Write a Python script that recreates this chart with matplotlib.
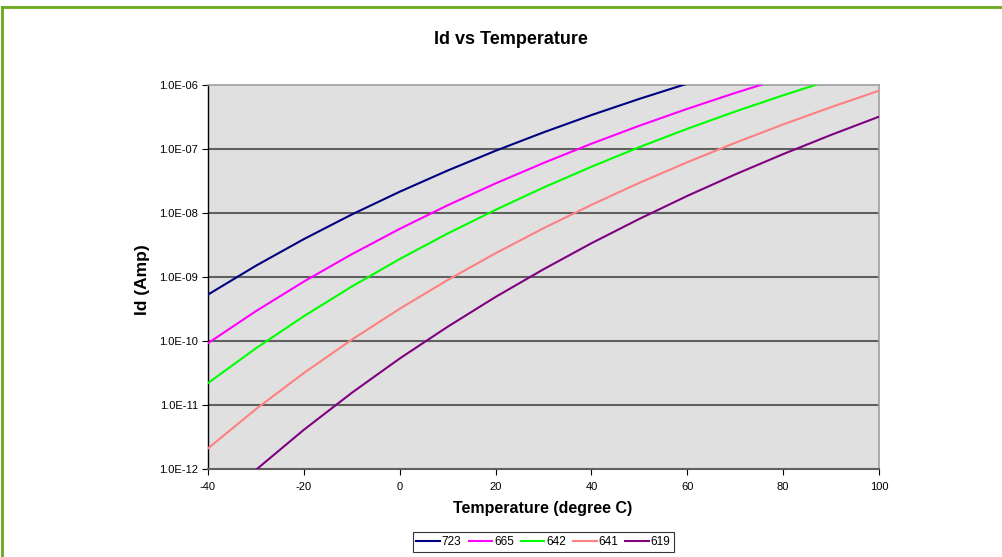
import matplotlib
matplotlib.use("Agg")
import matplotlib.pyplot as plt
from matplotlib.lines import Line2D
from matplotlib.ticker import FixedLocator, FixedFormatter

plt.rcParams['font.family'] = ['Liberation Sans', 'DejaVu Sans']

# temperature (degree C)
temps = [-40, -30, -20, -10, 0, 10, 20, 30, 40, 50, 60, 70, 80, 90, 100]

# Id (Amp) per series
id_723 = [5.31e-10, 1.50e-9, 3.91e-9, 9.48e-9, 2.15e-8, 4.61e-8, 9.38e-8, 1.82e-7,
          3.39e-7, 6.07e-7, 1.05e-6, 1.76e-6, 2.86e-6, 4.53e-6, 7.00e-6]
id_665 = [9.25e-11, 2.93e-10, 8.49e-10, 2.27e-9, 5.65e-9, 1.32e-8, 2.90e-8, 6.05e-8,
          1.21e-7, 2.31e-7, 4.24e-7, 7.52e-7, 1.29e-6, 2.15e-6, 3.48e-6]
id_642 = [2.20e-11, 7.69e-11, 2.44e-10, 7.10e-10, 1.91e-9, 4.78e-9, 1.12e-8, 2.50e-8,
          5.28e-8, 1.07e-7, 2.07e-7, 3.85e-7, 6.90e-7, 1.20e-6, 2.03e-6]
id_641 = [2.10e-12, 8.63e-12, 3.16e-11, 1.05e-10, 3.19e-10, 8.97e-10, 2.35e-9, 5.78e-9,
          1.34e-8, 2.96e-8, 6.21e-8, 1.25e-7, 2.42e-7, 4.51e-7, 8.15e-7]
id_619 = [2.03e-13, 9.70e-13, 4.10e-12, 1.55e-11, 5.33e-11, 1.67e-10, 4.88e-10, 1.32e-9,
          3.37e-9, 8.09e-9, 1.85e-8, 4.01e-8, 8.32e-8, 1.66e-7, 3.20e-7]

labels = ['723', '665', '642', '641', '619']
colors = ['#000080', '#FF00FF', '#00FF00', '#FF8080', '#800080']
series = [id_723, id_665, id_642, id_641, id_619]

y_ticks = [1e-12, 1e-11, 1e-10, 1e-9, 1e-8, 1e-7, 1e-6]
y_tick_labels = ['1.0E-12', '1.0E-11', '1.0E-10', '1.0E-09', '1.0E-08', '1.0E-07', '1.0E-06']
x_ticks = [-40, -20, 0, 20, 40, 60, 80, 100]

W, H = 1003, 557
fig = plt.figure(figsize=(W/100, H/100), dpi=100)
ax = fig.add_axes([208/W, 1 - 469/H, (879-208)/W, (469-85)/H])
ax.set_facecolor('#E0E0E0')

for vals, lab, col in zip(series, labels, colors):
    ax.plot(temps, vals, color=col, linewidth=1.5, label=lab, zorder=3)

ax.set_yscale('log')
ax.set_xlim(-40, 100)
ax.set_ylim(1e-12, 1e-6)
ax.yaxis.set_major_locator(FixedLocator(y_ticks))
ax.yaxis.set_major_formatter(FixedFormatter(y_tick_labels))
ax.yaxis.set_minor_locator(FixedLocator([]))
ax.set_xticks(x_ticks)
ax.set_xticklabels([str(t) for t in x_ticks])

# horizontal gridlines
for yv in y_ticks[1:-1]:
    ax.axhline(yv, color='#606060', linewidth=1.5, zorder=2)

for s in ['top', 'right']:
    ax.spines[s].set_color('#A0A0A0')
    ax.spines[s].set_linewidth(1.2)
ax.spines['left'].set_color('black')
ax.spines['left'].set_linewidth(1.0)
ax.spines['bottom'].set_color('#606060')
ax.spines['bottom'].set_linewidth(1.5)

ax.tick_params(axis='both', direction='out', length=4, width=0.8, color='black',
               labelsize=8, pad=3)
ax.tick_params(axis='x', pad=5)

fig.text(511/W, 1 - 40/H, 'Id vs Temperature', fontsize=13, fontweight='bold',
         ha='center', va='center')
fig.text(543/W, 1 - 509/H, 'Temperature (degree C)', fontsize=11.5, fontweight='bold',
         ha='center', va='center')
fig.text(143/W, 1 - 280/H, 'Id (Amp)', fontsize=12.5, fontweight='bold',
         ha='center', va='center', rotation=90)

leg = fig.legend(loc='center', bbox_to_anchor=(543.5/W, 1 - 542/H), ncol=5,
                 fontsize=8.5, frameon=True, fancybox=False, handlelength=2.0,
                 handletextpad=0.15, columnspacing=0.6, borderpad=0.3)
leg.get_frame().set_edgecolor('black')
leg.get_frame().set_linewidth(0.8)

# green outer border
green = '#6AAA1A'
fig.add_artist(Line2D([2/W, 1], [1 - 7/H, 1 - 7/H], color=green, linewidth=2,
                      transform=fig.transFigure))
fig.add_artist(Line2D([2/W, 2/W], [0, 1 - 7/H], color=green, linewidth=2,
                      transform=fig.transFigure))

fig.savefig('out.png', dpi=100)
